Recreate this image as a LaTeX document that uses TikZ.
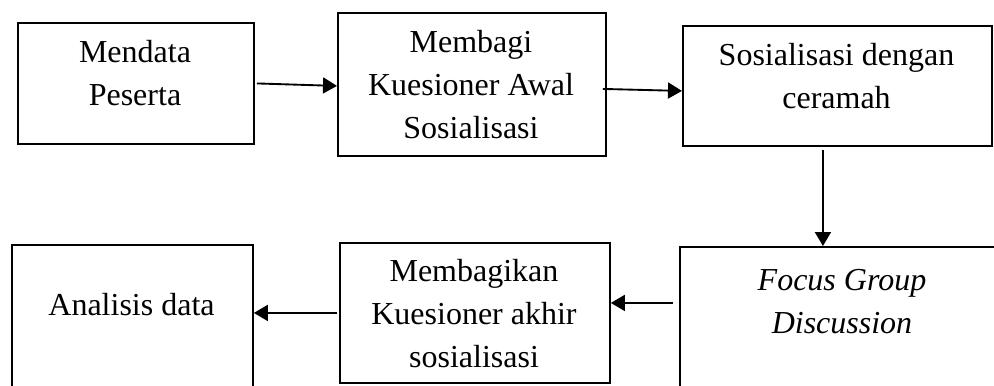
\documentclass[tikz,border=0pt]{standalone}
\usepackage{fontspec}
\setmainfont{Liberation Serif}
\usetikzlibrary{arrows.meta,calc}

\begin{document}
\begin{tikzpicture}[
    x=0.75pt, y=-0.75pt,
    box/.style={rectangle, draw, line width=1.4pt, anchor=north west, inner sep=0pt},
    txt/.style={align=center, anchor=base, inner sep=0pt, font=\fontsize{24}{31.9}\selectfont},
    arrow/.style={-{Triangle[length=10.5pt, width=12pt]}, line width=1.4pt}
]
    \clip (0,0) rectangle (994,385);

    % top row
    \node[box, minimum width=236*0.75pt, minimum height=121*0.75pt] (mendata) at (17,22) {};
    \node[box, minimum width=268*0.75pt, minimum height=143*0.75pt] (kuesawal) at (337,12) {};
    \node[box, minimum width=309*0.75pt, minimum height=120*0.75pt] (ceramah) at (682,25) {};
    % bottom row
    \node[box, minimum width=331*0.75pt, minimum height=174*0.75pt] (fgd) at (679,246) {};
    \node[box, minimum width=270*0.75pt, minimum height=140*0.75pt] (kuesakhir) at (339,242) {};
    \node[box, minimum width=241*0.75pt, minimum height=176*0.75pt] (analisis) at (11,244) {};

    % texts (placed at baseline of last line)
    \node[txt] (mendata-txt) at (135,105) {Mendata\\Peserta};
    \node[txt] (kuesawal-txt) at (471,138) {Membagi\\Kuesioner Awal\\Sosialisasi};
    \node[txt] (ceramah-txt) at (836.5,108) {Sosialisasi dengan\\ceramah};
    \node[txt] (fgd-txt) at (842,333) {\itshape Focus Group\\\itshape Discussion};
    \node[txt] (kuesakhir-txt) at (474,367) {Membagikan\\Kuesioner akhir\\sosialisasi};
    \node[txt] (analisis-txt) at (131.5,315) {Analisis data};

    \draw[arrow] ($(mendata.east)+(2,0)$) -- ($(kuesawal.west)+(0,1.5)$);
    \draw[arrow] ($(kuesawal.east)+(-4,4.5)$) -- ($(ceramah.west)+(0,5)$);
    \draw[arrow] ($(ceramah.south)+(-14.5,3)$) -- ($(fgd.north)+(-22.5,0)$);
    \draw[arrow] ($(fgd.west)+(-6,-31)$) -- ($(kuesakhir.east)+(0,-10)$);
    \draw[arrow] ($(kuesakhir.west)+(-2,0)$) -- ($(analisis.east)+(0,-20)$);
\end{tikzpicture}
\end{document}
